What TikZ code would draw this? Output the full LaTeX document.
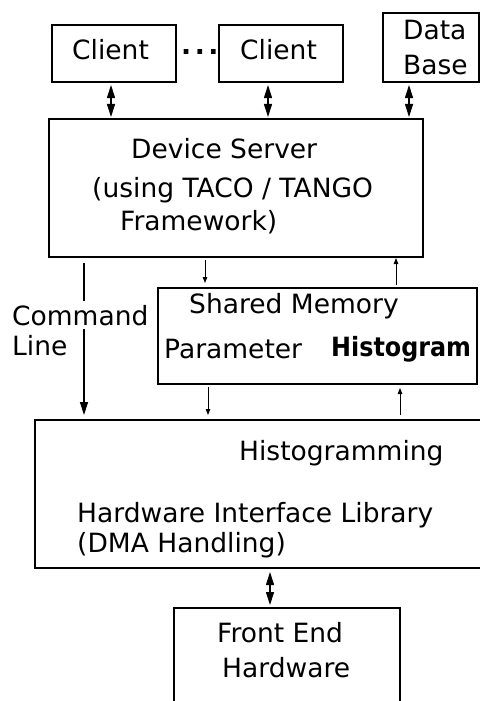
\documentclass[tikz,border=0pt]{standalone}
\usepackage{fontspec}
\setmainfont{DejaVu Sans}
\newfontfamily\condfont{DejaVu Sans Condensed}
\usetikzlibrary{arrows.meta}

\tikzset{
  box/.style={draw, line width=1.3bp, inner sep=0pt, outer sep=0pt, rectangle},
  txt/.style={anchor=base west, inner sep=0pt, font=\fontsize{26.6}{32}\selectfont},
  boldtxt/.style={anchor=base west, inner sep=0pt, font=\fontsize{26.6}{32}\selectfont\condfont\bfseries},
  dbl/.style={line width=1.1bp, {Triangle[length=13bp,width=8bp]}-{Triangle[length=13bp,width=8bp]}},
  thin/.style={line width=1bp, -{Triangle[length=6bp,width=4.5bp]}},
  bigarrow/.style={line width=1.3bp, -{Triangle[length=13bp,width=8bp]}}
}

\begin{document}
\begin{tikzpicture}[x=1bp,y=-1bp]
\useasboundingbox (0,0) rectangle (480,701);
\clip (0,0) rectangle (480,701);

% boxes
\node[box, minimum width=124bp, minimum height=57bp] (c1) at (114,53.5) {};
\node[box, minimum width=124bp, minimum height=57bp] (c2) at (281,53.5) {};
\node[box, minimum width=96bp, minimum height=69bp] (db) at (431,47.5) {};
\node[box, minimum width=374bp, minimum height=138bp] (ds) at (236,188) {};
\node[box, minimum width=319bp, minimum height=96bp] (sm) at (317.5,336) {};
\node[box, line width=2.5bp, minimum width=455bp, minimum height=148bp] (hg) at (262.5,494) {};
\node[box, minimum width=226bp, minimum height=112bp] (fe) at (287,664) {};

% labels
\node[txt] (c1t) at (72,60) {Client};
\node[txt] (c2t) at (240,60) {Client};
\node[txt] (dots) at (181,55) {\bfseries .\kern3.5bp.\kern3.5bp.};
\node[txt] (dbt1) at (403,40) {Data};
\node[txt] (dbt2) at (403,75) {Base};
\node[txt] (ds1) at (131,158) {Device Server};
\node[txt] (ds2) at (92,197) {(using TACO / TANGO};
\node[txt] (ds3) at (120,230) {Framework)};
\node[txt] (sm1) at (189,313) {Shared Memory};
\node[txt] (sm2) at (164,358) {Parameter};
\node[boldtxt] (sm3) at (331,356) {Histogram};
\node[txt] (hg1) at (239,460) {Histogramming};
\node[txt] (hg2) at (77,522) {Hardware Interface Library};
\node[txt] (hg3) at (77,552) {(DMA Handling)};
\node[txt] (fe1) at (217,642) {Front End};
\node[txt] (fe2) at (222,677) {Hardware};

% connectors
\draw[dbl, shorten <=3bp, shorten >=2bp] ([xshift=-3bp]c1.south) -- ([xshift=-3bp]c1.south |- ds.north);
\draw[dbl, shorten <=3bp, shorten >=2bp] ([xshift=-13bp]c2.south) -- ([xshift=-13bp]c2.south |- ds.north);
\draw[dbl, shorten <=3bp, shorten >=2bp] ([xshift=-22bp]db.south) -- ([xshift=-22bp]db.south |- ds.north);

\draw[thin, shorten <=3bp, shorten >=5bp] ([xshift=-31bp]ds.south) -- ([xshift=-31bp]ds.south |- sm.north);
\draw[thin, shorten <=3bp, shorten >=1bp] ([xshift=160bp]ds.south |- sm.north) -- ([xshift=160bp]ds.south);

\draw[thin, shorten <=3bp, shorten >=5bp] ([xshift=-109.5bp]sm.south) -- ([xshift=-109.5bp]sm.south |- hg.north);
\draw[thin, shorten <=5bp, shorten >=4bp] ([xshift=82.5bp]sm.south |- hg.north) -- ([xshift=82.5bp]sm.south);

\draw[bigarrow, shorten <=6bp, shorten >=5bp] ([xshift=-152bp]ds.south) -- ([xshift=-152bp]ds.south |- hg.north);

\draw[dbl, shorten <=4bp, shorten >=3bp] ([xshift=7.5bp]hg.south) -- ([xshift=7.5bp]hg.south |- fe.north);

% label over the command line arrow
\node[txt, fill=white, inner xsep=0pt, inner ysep=4bp] (cmd) at (12,325) {Command};
\node[txt] (line) at (12,355) {Line};
\end{tikzpicture}
\end{document}
